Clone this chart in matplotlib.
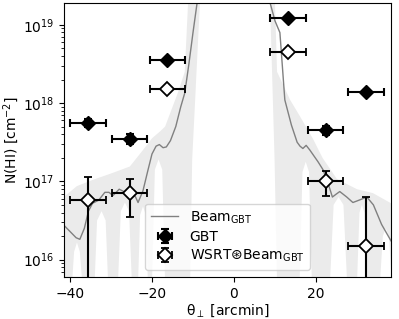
import numpy as np
import matplotlib
matplotlib.use('Agg')
import matplotlib.pyplot as plt

# measured points (theta in arcmin, column density in cm^-2)
theta = [-35.6, -25.4, -16.3, 13.2, 22.4, 32.2]
theta_err = [4.3, 4.3, 4.3, 4.3, 4.3, 4.3]

gbt_N = [5.6e17, 3.5e17, 3.5e18, 1.23e19, 4.5e17, 1.4e18]
gbt_err = [0.7e17, 0.5e17, 0.2e18, 0.5e18, 0.6e17, 0.6e17]

wsrt_N = [5.8e16, 7.2e16, 1.5e18, 4.5e18, 1.0e17, 1.5e16]
wsrt_err_lo = [5.8e16 - 1e13, 3.7e16, 0.1e18, 0.2e18, 0.35e17, 1.5e16 - 1e13]
wsrt_err_hi = [5.7e16, 3.5e16, 0.1e18, 0.2e18, 0.35e17, 4.8e16]

# GBT beam cut (log10 N)
beam_theta = [-41.5, -40.0, -38.5, -37.6, -36.5, -35.5, -34.5, -33.0, -31.5, -30.5,
              -29.5, -28.0, -26.5, -25.0, -24.0, -23.4, -22.2, -21.0, -20.0, -19.0,
              -18.2, -17.3, -16.5, -15.5, -14.2, -13.0, -12.0, -11.0, -10.0, -9.0,
              -6.0, 0.0, 6.0, 8.8, 10.0, 11.2, 12.4, 14.0, 15.4, 16.1,
              16.8, 17.6, 18.5, 20.5, 21.7, 22.8, 24.0, 25.0, 25.8, 27.5,
              29.0, 30.5, 32.4, 34.0, 36.0, 38.3]
beam_logN = [16.44, 16.36, 16.28, 16.26, 16.40, 16.62, 16.72, 16.76, 16.86, 16.86,
             16.82, 16.90, 16.86, 16.87, 16.80, 16.73, 16.88, 17.14, 17.35, 17.45,
             17.47, 17.43, 17.44, 17.52, 17.70, 17.95, 18.13, 18.50, 18.90, 19.28,
             19.90, 20.40, 19.90, 19.28, 19.05, 18.90, 18.04, 17.72, 17.50, 17.45,
             17.42, 17.46, 17.40, 17.25, 17.15, 17.00, 16.80, 16.84, 16.87, 16.80,
             16.73, 16.76, 16.80, 16.70, 16.45, 16.24]

# envelope of beam cuts (log10 N): upper edge and lower edge
env_hi_theta = [-42.0, -38.3, -34.4, -29.5, -25.4, -22.2, -20.0, -18.0, -16.8, -13.7,
                -12.0, -11.2, -10.0, 0.0, 10.0, 10.5, 13.7, 16.1, 19.3, 21.6,
                25.1, 30.0, 33.9, 39.0]
env_hi_logN = [16.78, 16.94, 17.02, 17.11, 17.19, 17.40, 17.55, 17.64, 17.70, 18.13,
               18.40, 19.28, 19.90, 20.80, 19.28, 18.40, 18.04, 17.83, 17.54, 17.30,
               17.03, 16.90, 16.85, 16.70]
env_lo_theta = [-42.0, -41.0, -39.5, -39.0, -38.3, -37.6, -37.0, -35.5,
                -34.0, -33.4, -32.3, -31.3, -30.7, -29.5,
                -28.3, -27.6, -26.6, -25.6, -24.9, -24.2,
                -23.4, -22.9, -22.2, -21.5, -21.0, -20.5,
                -20.0, -19.3, -18.4, -17.5, -16.8, -14.0,
                -10.7, -10.2, -8.3, 0.0, 8.8, 9.9, 10.5, 13.0,
                16.0, 16.7, 17.5, 18.3, 19.0, 21.0,
                23.4, 24.3, 25.5, 26.7, 27.6, 28.8,
                30.0, 30.6, 31.2, 31.8, 32.4, 34.0,
                35.6, 36.3, 37.0, 37.8, 38.5, 39.0]
env_lo_logN = [15.00, 14.50, 15.70, 16.10, 16.22, 16.10, 15.70, 14.50,
               15.70, 16.50, 16.62, 16.50, 15.70, 14.50,
               15.70, 16.62, 16.73, 16.62, 15.70, 14.50,
               15.70, 16.57, 16.68, 16.57, 15.70, 14.50,
               15.70, 17.15, 17.28, 17.15, 15.70, 14.50,
               15.70, 17.28, 19.28, 20.40, 19.28, 17.28, 15.70, 14.50,
               15.70, 17.12, 17.25, 17.12, 15.70, 14.50,
               15.70, 16.70, 16.80, 16.70, 15.70, 14.50,
               15.70, 16.60, 16.70, 16.60, 15.70, 14.50,
               15.70, 16.30, 16.40, 16.30, 15.70, 14.50]

fig = plt.figure(figsize=(3.99, 3.19), dpi=100)
ax = fig.add_axes([0.160, 0.132, 0.820, 0.859])
ax.set_yscale('log')

# shaded envelope as one polygon: upper edge left->right, lower edge right->left
poly_x = np.concatenate([env_hi_theta, env_lo_theta[::-1]])
poly_y = 10 ** np.concatenate([env_hi_logN, env_lo_logN[::-1]])
ax.fill(poly_x, poly_y, color='0.92', lw=0, zorder=1)

ax.plot(beam_theta, 10 ** np.array(beam_logN), color='0.5', lw=1.0, zorder=2,
        label=r'Beam$_{\rm GBT}$')

ax.errorbar(theta, gbt_N, xerr=theta_err, yerr=gbt_err, fmt='D', color='k',
            mfc='k', mec='k', ms=7, lw=1.5, capsize=3, capthick=1.5, zorder=4,
            label='GBT')
ax.errorbar(theta, wsrt_N, xerr=theta_err, yerr=[wsrt_err_lo, wsrt_err_hi], fmt='D',
            color='k', mfc='w', mec='k', ms=7, mew=1.3, lw=1.5, capsize=3,
            capthick=1.5, zorder=4, label=r'WSRT⊛Beam$_{\rm GBT}$')

ax.set_xlim(-41.5, 38.3)
ax.set_ylim(10 ** 15.78, 10 ** 19.28)
ax.set_xticks([-40, -20, 0, 20])
ax.set_xlabel(r'θ$_\perp$ [arcmin]', fontsize=10, labelpad=1)
ax.set_ylabel(r'N(HI) [cm$^{-2}$]', fontsize=10, labelpad=1)
ax.tick_params(labelsize=10)

ax.legend(loc='lower center', fontsize=10, handlelength=2.0, borderpad=0.4,
          labelspacing=0.3)

fig.savefig('out.png', dpi=100)
